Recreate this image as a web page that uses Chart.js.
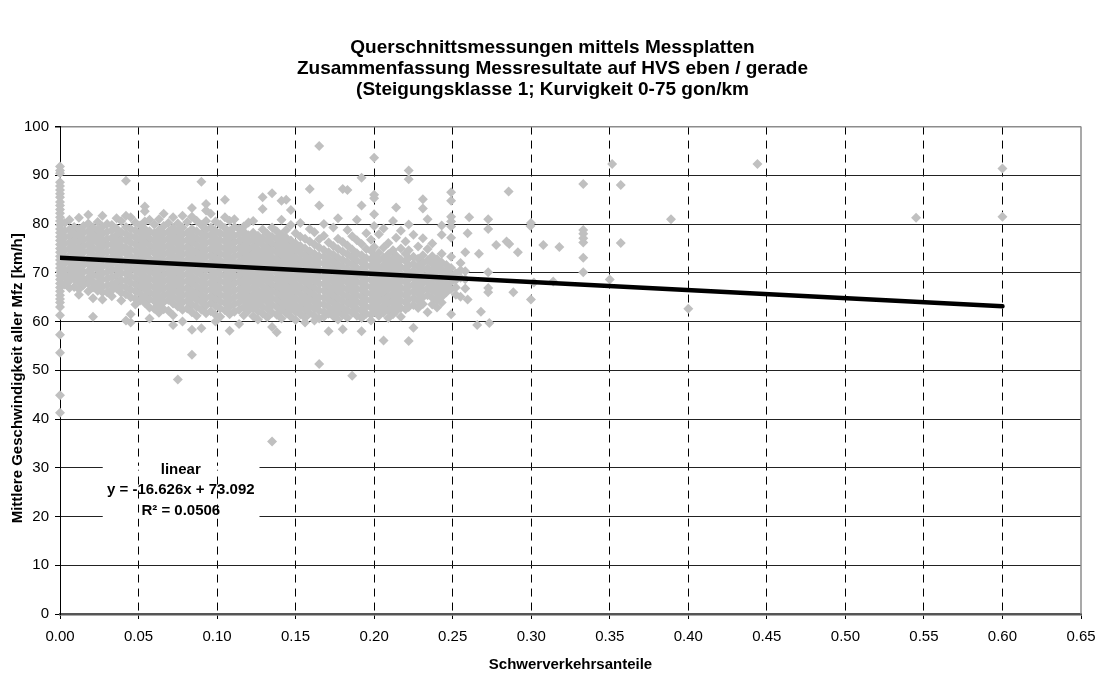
<!DOCTYPE html>
<html>
<head>
<meta charset="utf-8">
<script src="https://cdn.jsdelivr.net/npm/chart.js@4/dist/chart.umd.min.js"></script>
<style>
    html, body { margin: 0; padding: 0; background: #fff; }
</style>
</head>
<body>
<canvas id="speed-chart" width="1105" height="674"></canvas>
<script>
// Querschnittsmessungen: Geschwindigkeit vs. Schwerverkehrsanteil

const chartTitle = [
    'Querschnittsmessungen mittels Messplatten',
    'Zusammenfassung Messresultate auf HVS eben / gerade',
    '(Steigungsklasse 1; Kurvigkeit 0-75 gon/km'
];
const xAxisTitle = 'Schwerverkehrsanteile';
const yAxisTitle = 'Mittlere Geschwindigkeit aller Mfz [km/h]';
const trendLabel = ['linear', 'y = -16.626x + 73.092', 'R² = 0.0506'];

const shareTicks = [0.00, 0.05, 0.10, 0.15, 0.20, 0.25, 0.30, 0.35, 0.40, 0.45, 0.50, 0.55, 0.60, 0.65];
const speedTicks = [0, 10, 20, 30, 40, 50, 60, 70, 80, 90, 100];

// linear trend (Excel), from 0 to 0.60
const trendShares = [0.0, 0.6];
const trendSpeeds = [73.092, 63.116];

// measurements with a heavy traffic share of 0
const axisSpeeds = [91.8, 91.0, 90.4, 88.6, 87.8, 87.0, 86.2, 85.5, 84.5, 83.8, 83.0, 82.2,
    81.4, 80.6, 79.8, 79.0, 78.2, 77.4, 76.6, 75.8, 75.0, 74.2, 73.4, 72.6, 71.8, 71.0,
    70.2, 69.4, 68.6, 67.8, 67.0, 66.2, 65.4, 64.6, 63.9, 63.0, 61.3, 57.3, 53.6, 44.9, 41.3];

// dense cloud, read column by column
const cloudShares = [
    0.003, 0.006, 0.009, 0.012, 0.015, 0.018, 0.021, 0.024, 0.027, 0.030,
    0.033, 0.036, 0.039, 0.042, 0.045, 0.048, 0.051, 0.054, 0.057, 0.060,
    0.063, 0.066, 0.069, 0.072, 0.075, 0.078, 0.081, 0.084, 0.087, 0.090,
    0.093, 0.096, 0.099, 0.102, 0.105, 0.108, 0.111, 0.114, 0.117, 0.120,
    0.123, 0.126, 0.129, 0.132, 0.135, 0.138, 0.141, 0.144, 0.147, 0.150,
    0.153, 0.156, 0.159, 0.162, 0.165, 0.168, 0.171, 0.174, 0.177, 0.180,
    0.183, 0.186, 0.189, 0.192, 0.195, 0.198, 0.200, 0.203, 0.206, 0.209,
    0.212, 0.214, 0.217, 0.220, 0.222, 0.225, 0.228, 0.231, 0.234, 0.237,
    0.240, 0.243, 0.246, 0.249, 0.252, 0.255, 0.258
];
const cloudSpeeds = [
    [80.2, 78.6, 77.3, 76.0, 74.6, 73.1, 71.9, 70.4, 69.2, 67.6],
    [80.9, 78.9, 77.5, 76.2, 75.0, 73.6, 72.3, 70.9, 69.5, 68.3, 66.9],
    [79.4, 78.1, 76.7, 75.4, 74.1, 72.8, 71.5, 70.0, 68.8, 67.1],
    [81.3, 79.0, 77.6, 76.3, 74.9, 73.4, 72.0, 70.7, 69.4, 68.0, 66.6, 65.5],
    [79.6, 78.2, 76.8, 75.5, 74.2, 72.9, 71.6, 70.2, 68.7, 67.5],
    [81.9, 80.1, 78.5, 77.1, 75.8, 74.4, 73.0, 71.8, 70.3, 69.0, 67.9, 66.2],
    [79.3, 77.9, 76.5, 75.1, 73.7, 72.4, 71.1, 69.6, 68.2, 67.0, 64.8, 61.0],
    [80.4, 78.8, 77.4, 76.1, 74.7, 73.3, 72.0, 70.6, 69.3, 67.8, 66.3],
    [81.7, 79.5, 78.0, 76.6, 75.3, 73.9, 72.6, 71.3, 69.9, 68.6, 67.2, 66.0, 64.5],
    [80.0, 78.4, 77.0, 75.7, 74.3, 72.9, 71.5, 70.1, 68.8, 67.4, 66.0],
    [79.8, 78.7, 77.2, 75.9, 74.5, 73.2, 71.8, 70.5, 69.1, 67.7, 66.4, 65.2],
    [81.2, 79.1, 77.7, 76.4, 75.0, 73.6, 72.2, 70.8, 69.5, 68.1, 66.8],
    [80.6, 78.3, 76.9, 75.5, 74.2, 72.7, 71.4, 70.0, 68.5, 67.3, 65.9, 64.3],
    [88.9, 81.7, 79.4, 78.0, 76.6, 75.2, 73.9, 72.5, 71.1, 69.8, 68.4, 67.0, 65.6, 60.2],
    [81.4, 79.0, 77.5, 76.2, 74.8, 73.4, 72.0, 70.7, 69.3, 67.9, 66.5, 65.0, 61.5, 59.8],
    [80.3, 78.6, 77.3, 75.9, 74.5, 73.1, 71.7, 70.4, 69.0, 67.6, 66.2, 64.7, 63.5],
    [79.7, 78.2, 76.8, 75.4, 74.0, 72.6, 71.2, 69.9, 68.5, 67.1, 65.7, 64.3],
    [83.6, 82.6, 80.5, 79.0, 77.6, 76.2, 74.8, 73.5, 72.1, 70.7, 69.3, 67.9, 66.6, 65.1, 63.8],
    [80.9, 78.5, 77.1, 75.7, 74.3, 72.9, 71.6, 70.2, 68.8, 67.4, 66.0, 64.6, 62.9, 60.6],
    [79.9, 78.1, 76.7, 75.3, 74.0, 72.6, 71.2, 69.8, 68.4, 67.0, 65.6, 64.2, 62.6],
    [81.0, 78.8, 77.4, 76.0, 74.6, 73.2, 71.8, 70.5, 69.1, 67.7, 66.3, 64.9, 63.4, 61.8],
    [82.1, 79.6, 78.0, 76.6, 75.2, 73.8, 72.4, 71.0, 69.6, 68.2, 66.8, 65.4, 64.0, 62.5],
    [80.2, 78.4, 77.0, 75.6, 74.2, 72.8, 71.4, 70.0, 68.6, 67.2, 65.8, 64.4, 62.2],
    [81.4, 79.2, 77.7, 76.3, 74.9, 73.5, 72.1, 70.7, 69.3, 67.9, 66.5, 65.1, 63.7, 61.3, 59.3],
    [80.1, 78.6, 77.2, 75.8, 74.4, 73.0, 71.6, 70.2, 68.8, 67.4, 66.0, 64.6, 63.1, 48.1],
    [81.7, 79.3, 77.9, 76.5, 75.1, 73.7, 72.3, 70.9, 69.5, 68.1, 66.7, 65.3, 63.9, 62.4, 60.0],
    [80.4, 78.2, 76.8, 75.4, 74.0, 72.6, 71.2, 69.8, 68.4, 67.0, 65.6, 64.2, 62.7],
    [83.3, 81.5, 79.0, 77.6, 76.2, 74.8, 73.4, 72.0, 70.6, 69.2, 67.8, 66.4, 65.0, 63.5, 61.9, 58.3, 53.2],
    [80.7, 78.5, 77.1, 75.7, 74.3, 72.9, 71.5, 70.1, 68.7, 67.3, 65.9, 64.5, 63.0, 61.2],
    [88.7, 79.8, 78.0, 76.6, 75.2, 73.8, 72.4, 71.0, 69.6, 68.2, 66.8, 65.4, 64.0, 62.4, 58.6],
    [84.1, 82.8, 80.6, 78.9, 77.5, 76.1, 74.7, 73.3, 71.9, 70.5, 69.1, 67.7, 66.3, 64.9, 63.3, 61.7],
    [82.1, 79.3, 77.8, 76.4, 75.0, 73.6, 72.2, 70.8, 69.4, 68.0, 66.6, 65.2, 63.8, 62.1],
    [80.5, 78.6, 77.2, 75.8, 74.4, 73.0, 71.6, 70.2, 68.8, 67.4, 66.0, 64.6, 63.2, 61.4, 60.0],
    [79.9, 78.1, 76.7, 75.3, 73.9, 72.5, 71.1, 69.7, 68.3, 66.9, 65.5, 64.1, 62.7, 61.0],
    [85.0, 81.4, 79.2, 77.8, 76.4, 75.0, 73.6, 72.2, 70.8, 69.4, 68.0, 66.6, 65.2, 63.8, 62.3],
    [80.7, 78.5, 77.1, 75.7, 74.3, 72.9, 71.5, 70.1, 68.7, 67.3, 65.9, 64.5, 63.0, 61.5, 58.1],
    [81.0, 79.4, 77.6, 76.2, 74.8, 73.4, 72.0, 70.6, 69.2, 67.8, 66.4, 65.0, 63.6, 62.0],
    [79.0, 77.9, 76.5, 75.1, 73.7, 72.3, 70.9, 69.5, 68.1, 66.7, 65.3, 63.9, 62.4, 59.5],
    [79.5, 78.4, 77.0, 75.6, 74.2, 72.8, 71.4, 70.0, 68.6, 67.2, 65.8, 64.4, 62.9, 61.3],
    [80.3, 77.7, 76.3, 74.9, 73.5, 72.1, 70.7, 69.3, 67.9, 66.5, 65.1, 63.7, 62.2],
    [80.6, 78.2, 76.8, 75.4, 74.0, 72.6, 71.2, 69.8, 68.4, 67.0, 65.6, 64.2, 62.8, 61.1],
    [77.6, 76.2, 74.8, 73.4, 72.0, 70.6, 69.2, 67.8, 66.4, 65.0, 63.6, 62.1, 60.4],
    [85.5, 83.1, 78.9, 77.1, 75.7, 74.3, 72.9, 71.5, 70.1, 68.7, 67.3, 65.9, 64.5, 63.0, 61.6],
    [78.0, 76.6, 75.2, 73.8, 72.4, 71.0, 69.6, 68.2, 66.8, 65.4, 64.0, 62.6, 60.9],
    [86.3, 79.3, 77.4, 76.0, 74.6, 73.2, 71.8, 70.4, 69.0, 67.6, 66.2, 64.8, 63.4, 61.8, 58.9, 35.4],
    [78.5, 77.0, 75.6, 74.2, 72.8, 71.4, 70.0, 68.6, 67.2, 65.8, 64.4, 63.0, 61.4, 57.8],
    [84.8, 80.9, 77.8, 76.4, 75.0, 73.6, 72.2, 70.8, 69.4, 68.0, 66.6, 65.2, 63.8, 62.3, 60.6],
    [85.0, 78.8, 77.2, 75.8, 74.4, 73.0, 71.6, 70.2, 68.8, 67.4, 66.0, 64.6, 63.2, 61.7],
    [82.9, 79.8, 76.6, 75.2, 73.8, 72.4, 71.0, 69.6, 68.2, 66.8, 65.4, 64.0, 62.6, 61.0],
    [78.1, 76.0, 74.6, 73.2, 71.8, 70.4, 69.0, 67.6, 66.2, 64.8, 63.4, 62.0, 60.3],
    [80.2, 77.4, 75.5, 74.1, 72.7, 71.3, 69.9, 68.5, 67.1, 65.7, 64.3, 62.9, 61.5],
    [77.0, 75.0, 73.6, 72.2, 70.8, 69.4, 68.0, 66.6, 65.2, 63.8, 62.4, 60.8, 59.8],
    [87.2, 79.0, 76.4, 74.4, 73.0, 71.6, 70.2, 68.8, 67.4, 66.0, 64.6, 63.2, 61.7],
    [78.3, 75.8, 73.9, 72.5, 71.1, 69.7, 68.3, 66.9, 65.5, 64.1, 62.7, 61.2, 60.2],
    [96.0, 83.8, 76.9, 75.2, 73.4, 72.0, 70.6, 69.2, 67.8, 66.4, 65.0, 63.6, 62.2, 60.6, 51.3],
    [80.0, 77.6, 74.7, 73.3, 71.9, 70.5, 69.1, 67.7, 66.3, 64.9, 63.5, 62.0, 61.0],
    [76.2, 74.2, 72.8, 71.4, 70.0, 68.6, 67.2, 65.8, 64.4, 63.0, 61.6, 58.0],
    [79.3, 75.5, 73.7, 72.3, 70.9, 69.5, 68.1, 66.7, 65.3, 63.9, 62.5, 61.1],
    [81.2, 77.0, 74.9, 73.1, 71.7, 70.3, 68.9, 67.5, 66.1, 64.7, 63.3, 61.9, 60.4],
    [87.2, 76.3, 74.3, 72.6, 71.2, 69.8, 68.4, 67.0, 65.6, 64.2, 62.8, 61.4, 58.4],
    [87.0, 78.8, 75.6, 73.8, 72.2, 70.8, 69.4, 68.0, 66.6, 65.2, 63.8, 62.3, 60.8],
    [77.5, 74.8, 73.2, 71.7, 70.3, 68.9, 67.5, 66.1, 64.7, 63.3, 61.8, 48.9],
    [80.9, 76.7, 74.0, 72.5, 71.0, 69.6, 68.2, 66.8, 65.4, 64.0, 62.6, 61.2],
    [89.5, 83.8, 75.9, 73.6, 72.1, 70.7, 69.3, 67.9, 66.5, 65.1, 63.7, 62.2, 60.7, 58.0],
    [78.1, 74.9, 73.0, 71.5, 70.1, 68.7, 67.3, 65.9, 64.5, 63.1, 61.6],
    [76.8, 74.5, 72.8, 71.3, 69.9, 68.5, 67.1, 65.7, 64.3, 62.9, 61.4, 60.2],
    [93.6, 86.0, 85.3, 82.0, 79.6, 75.3, 73.4, 71.9, 70.4, 69.0, 67.6, 66.2, 64.8, 63.4, 62.0],
    [77.9, 74.1, 72.6, 71.1, 69.7, 68.3, 66.9, 65.5, 64.1, 62.7, 61.2],
    [79.1, 75.2, 73.1, 71.6, 70.2, 68.8, 67.4, 66.0, 64.6, 63.2, 61.8, 56.1],
    [76.1, 73.8, 72.3, 70.8, 69.4, 68.0, 66.6, 65.2, 63.8, 62.3, 60.7],
    [80.6, 74.6, 72.9, 71.4, 69.9, 68.5, 67.1, 65.7, 64.3, 62.9, 61.5],
    [83.4, 77.2, 73.5, 72.0, 70.5, 69.1, 67.7, 66.3, 64.9, 63.5, 62.1],
    [78.6, 75.0, 72.7, 71.2, 69.8, 68.4, 67.0, 65.6, 64.2, 62.8, 61.0],
    [76.4, 73.9, 72.4, 70.9, 69.5, 68.1, 66.7, 65.3, 63.9, 62.5],
    [91.0, 89.2, 79.9, 74.6, 73.0, 71.5, 70.1, 68.7, 67.3, 65.9, 64.5, 63.0, 56.0],
    [77.8, 73.3, 71.8, 70.4, 69.0, 67.6, 66.2, 64.8, 63.4, 58.7],
    [75.4, 72.9, 71.3, 69.9, 68.5, 67.1, 65.7, 64.3, 62.8],
    [85.1, 83.2, 77.1, 73.6, 72.0, 70.6, 69.2, 67.8, 66.4, 65.0, 63.6],
    [81.0, 74.9, 72.5, 71.0, 69.6, 68.2, 66.8, 65.4, 61.9],
    [76.0, 73.4, 71.9, 70.5, 69.1, 67.7, 66.3, 64.9, 63.5],
    [72.8, 71.4, 70.0, 68.6, 67.2, 65.8, 64.4, 62.9],
    [79.7, 77.8, 73.9, 72.1, 70.7, 69.3, 67.9, 66.5, 65.1, 63.9],
    [71.6, 70.2, 68.8, 67.4, 66.0],
    [86.5, 84.8, 81.5, 80.5, 79.5, 77.2, 73.3, 71.0, 69.6, 68.1, 66.6, 61.5],
    [69.9, 68.5, 67.0, 65.5],
    [72.0, 70.5, 69.0, 65.1],
    [74.2, 70.3, 68.7, 66.8]
];

// single measurements right of the cloud
const outlierShares = [0.2605, 0.2595, 0.2595, 0.2656, 0.2733, 0.268, 0.2726, 0.2726, 0.2726, 0.2726,
    0.2726, 0.2667, 0.2777, 0.2843, 0.286, 0.2856, 0.2886, 0.2915, 0.2998, 0.2995,
    0.2998, 0.3017, 0.3077, 0.314, 0.3179, 0.3331, 0.3331, 0.3331, 0.3331, 0.3331,
    0.3331, 0.3331, 0.35, 0.3515, 0.357, 0.357, 0.389, 0.40, 0.444, 0.545,
    0.60, 0.60];
const outlierSpeeds = [81.4, 78.1, 64.5, 59.3, 59.7, 62.0, 66.9, 66.0, 70.1, 79.0,
    81.0, 73.9, 75.7, 76.4, 75.9, 86.7, 66.0, 74.2, 80.2, 79.6,
    64.5, 68.0, 75.7, 68.2, 75.3, 88.2, 78.8, 78.0, 77.1, 76.2,
    73.1, 70.1, 68.6, 92.3, 88.0, 76.1, 81.0, 62.6, 92.3, 81.3,
    91.4, 81.5];

// build point list
const measurements = [];
axisSpeeds.forEach(v => measurements.push({ x: 0, y: v }));
cloudShares.forEach((share, i) => {
    cloudSpeeds[i].forEach(v => measurements.push({ x: share, y: v }));
});
outlierShares.forEach((share, i) => measurements.push({ x: share, y: outlierSpeeds[i] }));

const trendPoints = trendShares.map((share, i) => ({ x: share, y: trendSpeeds[i] }));

const FONT = 'Liberation Sans, Arial, Helvetica, sans-serif';

// white gaps behind the trend label, right border, label text, y title
const trendLabelPlugin = {
    id: 'trendLabel',
    beforeDatasetsDraw(chart) {
        const { ctx, chartArea, scales: { x, y } } = chart;
        const left = x.getPixelForValue(0.0272);
        const right = x.getPixelForValue(0.127);
        ctx.save();
        ctx.fillStyle = '#ffffff';
        [30, 20].forEach(v => {
            const py = y.getPixelForValue(v);
            ctx.fillRect(left, py - 2, right - left, 4);
        });
        // plot area border on the right
        ctx.strokeStyle = '#8c8c8c';
        ctx.lineWidth = 1.5;
        ctx.beginPath();
        ctx.moveTo(chartArea.right, chartArea.top);
        ctx.lineTo(chartArea.right, chartArea.bottom);
        ctx.stroke();
        ctx.restore();
    },
    afterDraw(chart) {
        const { ctx, chartArea, scales: { x, y } } = chart;
        const cx = x.getPixelForValue(0.0769);
        const cy = y.getPixelForValue(25.5);
        ctx.save();
        ctx.fillStyle = '#000';
        ctx.font = `bold 15px ${FONT}`;
        ctx.textAlign = 'center';
        ctx.textBaseline = 'middle';
        ctx.fillText(trendLabel[0], cx, cy - 20);
        ctx.fillText(trendLabel[1], cx, cy);
        ctx.fillText(trendLabel[2], cx, cy + 21);

        // y axis title, a bit below the middle of the plot area
        ctx.translate(17.5, (chartArea.top + chartArea.bottom) / 2 + 8);
        ctx.rotate(-Math.PI / 2);
        ctx.fillText(yAxisTitle, 0, 0);
        ctx.restore();
    }
};

const ctx = document.getElementById('speed-chart').getContext('2d');

new Chart(ctx, {
    type: 'scatter',
    data: {
        datasets: [
            {
                label: 'linear',
                type: 'line',
                data: trendPoints,
                borderColor: '#000',
                borderWidth: 4.5,
                borderCapStyle: 'round',
                pointRadius: 0,
                fill: false,
                order: 0
            },
            {
                label: 'Messungen',
                data: measurements,
                pointStyle: 'rectRot',
                pointRadius: 5,
                pointBackgroundColor: '#c0c0c0',
                pointBorderWidth: 0,
                clip: false,
                order: 1
            }
        ]
    },
    options: {
        responsive: false,
        animation: false,
        events: [],
        layout: { padding: 0 },
        plugins: {
            legend: { display: false },
            tooltip: { enabled: false },
            title: {
                display: true,
                text: chartTitle,
                color: '#000',
                font: { family: FONT, size: 19, weight: 'bold', lineHeight: 1.08 },
                padding: { top: 38, bottom: 27 }
            }
        },
        scales: {
            x: {
                type: 'linear',
                min: 0,
                max: 0.65,
                afterBuildTicks: s => { s.ticks = shareTicks.map(v => ({ value: v })); },
                afterFit: s => { s.height = 60; s.paddingRight = 24; },
                ticks: {
                    color: '#000',
                    font: { family: FONT, size: 15 },
                    padding: 9,
                    maxRotation: 0,
                    callback: v => Number(v).toFixed(2)
                },
                grid: {
                    color: c => (c.tick && (c.tick.value < 0.001 || c.tick.value > 0.649)) ? 'rgba(0,0,0,0)' : '#000',
                    lineWidth: 1,
                    tickLength: 5,
                    tickColor: '#000'
                },
                border: { color: '#555', width: 2.5, dash: [8, 6] },
                title: {
                    display: true,
                    text: xAxisTitle,
                    color: '#000',
                    font: { family: FONT, size: 15, weight: 'bold', lineHeight: 1.2 },
                    padding: { top: 0, bottom: 0 }
                }
            },
            y: {
                type: 'linear',
                min: 0,
                max: 100,
                afterBuildTicks: s => { s.ticks = speedTicks.map(v => ({ value: v })); },
                afterFit: s => { s.width = 60; },
                ticks: {
                    color: '#000',
                    font: { family: FONT, size: 15 },
                    padding: 6
                },
                grid: {
                    color: c => (c.tick && c.tick.value === 100) ? '#8c8c8c' : '#222',
                    lineWidth: c => (c.tick && c.tick.value === 100) ? 1.5 : 1,
                    tickLength: 5,
                    tickColor: '#000'
                },
                border: { color: '#000', width: 1 }
            }
        }
    },
    plugins: [trendLabelPlugin]
});
</script>
</body>
</html>
